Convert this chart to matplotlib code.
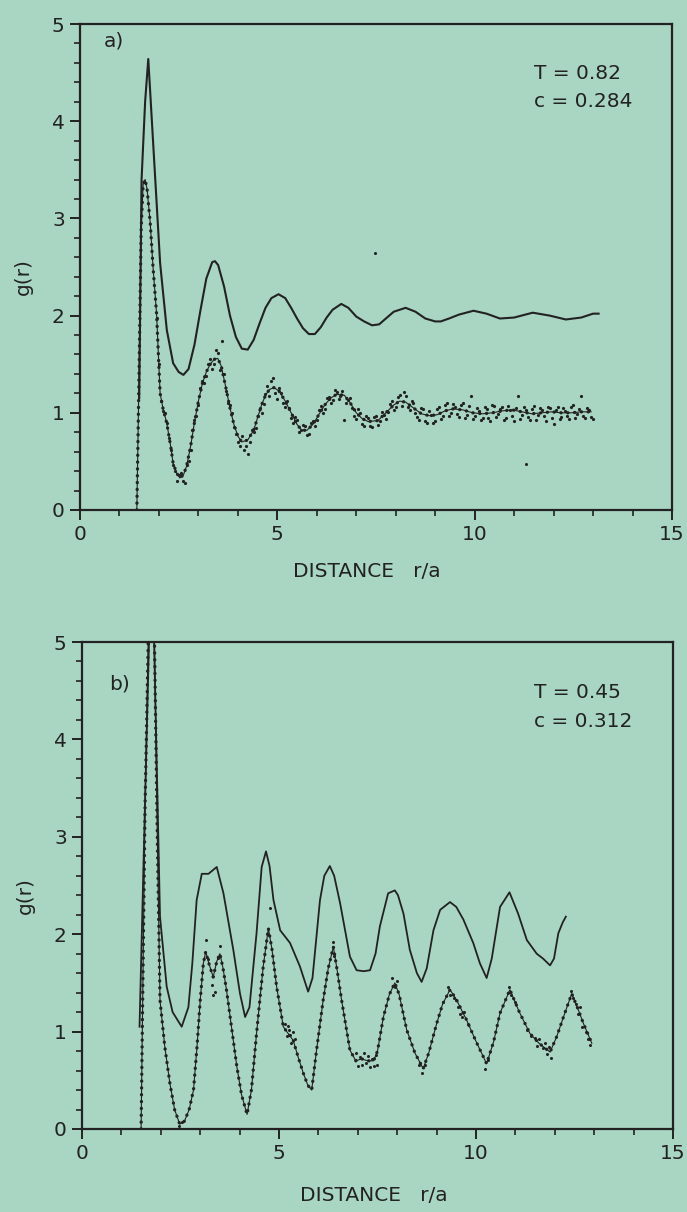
import matplotlib
matplotlib.use("Agg")
import matplotlib.pyplot as plt
from matplotlib.ticker import MultipleLocator

# ---------------- data ----------------
# Panel a: T = 0.82, c = 0.284
upper_a_x = [1.50, 1.56, 1.65, 1.73, 1.80, 1.90, 2.03, 2.20, 2.36, 2.50, 2.62, 2.75, 2.90,
             3.05, 3.20, 3.35, 3.42, 3.50, 3.65, 3.80, 3.95, 4.10, 4.25, 4.40, 4.55, 4.70,
             4.85, 5.03, 5.20, 5.35, 5.50, 5.65, 5.80, 5.95, 6.10, 6.25, 6.40, 6.62, 6.80,
             7.00, 7.20, 7.40, 7.58, 7.75, 7.95, 8.25, 8.50, 8.75, 9.00, 9.14, 9.35, 9.60,
             9.97, 10.30, 10.64, 11.00, 11.47, 11.90, 12.31, 12.70, 13.00, 13.14]
upper_a_y = [1.15, 3.40, 4.20, 4.64, 4.15, 3.45, 2.54, 1.85, 1.51, 1.42, 1.39, 1.45, 1.70,
             2.05, 2.38, 2.55, 2.56, 2.52, 2.30, 2.00, 1.78, 1.66, 1.65, 1.75, 1.92, 2.08,
             2.18, 2.22, 2.18, 2.08, 1.97, 1.87, 1.81, 1.81, 1.88, 1.98, 2.06, 2.12, 2.08,
             1.99, 1.94, 1.90, 1.91, 1.97, 2.04, 2.08, 2.04, 1.97, 1.94, 1.94, 1.97, 2.01,
             2.05, 2.02, 1.97, 1.98, 2.03, 2.00, 1.96, 1.98, 2.02, 2.02]

lower_a_x = [1.44, 1.50, 1.55, 1.60, 1.65, 1.70, 1.78, 1.85, 1.94, 2.03, 2.10, 2.20, 2.30,
             2.36, 2.45, 2.53, 2.62, 2.70, 2.80, 2.90, 3.00, 3.10, 3.20, 3.30, 3.40, 3.49,
             3.58, 3.70, 3.80, 3.90, 4.00, 4.10, 4.25, 4.40, 4.50, 4.60, 4.70, 4.80, 4.92,
             5.05, 5.20, 5.35, 5.50, 5.62, 5.75, 5.90, 6.05, 6.20, 6.35, 6.50, 6.70, 6.85,
             7.00, 7.15, 7.30, 7.55, 7.75, 7.95, 8.10, 8.25, 8.45, 8.65, 8.85, 9.05, 9.25,
             9.45, 9.70, 9.95, 10.20, 10.45, 10.70, 10.95, 11.20, 11.45, 11.70, 11.95,
             12.20, 12.45, 12.70, 12.95]
lower_a_y = [0.00, 1.50, 2.90, 3.35, 3.40, 3.30, 2.95, 2.50, 2.02, 1.20, 1.05, 0.89, 0.65,
             0.48, 0.38, 0.33, 0.36, 0.45, 0.65, 0.90, 1.12, 1.30, 1.42, 1.50, 1.55, 1.56,
             1.48, 1.25, 1.05, 0.88, 0.76, 0.70, 0.72, 0.82, 0.95, 1.08, 1.18, 1.24, 1.26,
             1.22, 1.12, 1.00, 0.88, 0.82, 0.82, 0.88, 0.98, 1.08, 1.15, 1.19, 1.18, 1.10,
             1.00, 0.94, 0.91, 0.92, 1.00, 1.08, 1.12, 1.11, 1.05, 0.99, 0.97, 0.98, 1.02,
             1.04, 1.03, 1.00, 0.99, 1.00, 1.02, 1.03, 1.01, 0.99, 1.00, 1.01, 1.00, 1.00,
             1.01, 1.01]

dots_a1_x = [1.95, 2.05, 2.15, 2.25, 2.35, 2.45, 2.55, 2.65, 2.75, 2.85, 2.95, 3.05, 3.15,
             3.25, 3.35, 3.45, 3.55, 3.65, 3.75, 3.85, 3.95, 4.05, 4.15, 4.25, 4.35, 4.45,
             4.55, 4.65, 4.75, 4.85, 4.95, 5.05, 5.15, 5.25, 5.35, 5.45, 5.55, 5.65, 5.75,
             5.85, 5.95, 6.05, 6.15, 6.25, 6.35, 6.45, 6.55, 6.65, 6.75, 6.85, 6.95, 7.05,
             7.15, 7.25, 7.35, 7.45, 7.55, 7.65, 7.75, 7.85, 7.95, 8.05, 8.15, 8.25, 8.35,
             8.45, 8.55, 8.65, 8.75, 8.85, 8.95, 9.05, 9.15, 9.25, 9.35, 9.45, 9.55, 9.65,
             9.75, 9.85, 9.95, 10.05, 10.15, 10.25, 10.35, 10.45, 10.55, 10.65, 10.75, 10.85,
             10.95, 11.05, 11.15, 11.25, 11.35, 11.45, 11.55, 11.65, 11.75, 11.85, 11.95,
             12.05, 12.15, 12.25, 12.35, 12.45, 12.55, 12.65, 12.75, 12.85, 12.95]
dots_a1_y = [1.98, 1.12, 1.00, 0.74, 0.46, 0.30, 0.38, 0.28, 0.50, 0.82, 0.97, 1.25, 1.31,
             1.50, 1.45, 1.65, 1.44, 1.40, 1.10, 1.00, 0.78, 0.66, 0.62, 0.58, 0.82, 0.84,
             1.05, 1.09, 1.28, 1.33, 1.20, 1.26, 1.10, 1.12, 0.95, 0.96, 0.80, 0.87, 0.77,
             0.90, 0.86, 1.03, 1.00, 1.15, 1.10, 1.23, 1.14, 1.22, 1.10, 1.15, 0.97, 1.04,
             0.88, 0.97, 0.86, 0.96, 0.87, 1.01, 0.94, 1.09, 1.03, 1.16, 1.07, 1.17, 1.03,
             1.10, 0.96, 1.05, 0.92, 1.02, 0.90, 1.04, 0.94, 1.08, 0.97, 1.09, 0.99, 1.08,
             0.95, 1.07, 0.94, 1.05, 0.93, 1.06, 0.95, 1.08, 0.96, 1.04, 0.93, 1.07,
             0.97, 1.05, 0.94, 1.06, 0.96, 1.04, 0.93, 1.05, 0.97, 1.06, 0.95,
             1.03, 0.94, 1.05, 0.97, 1.06, 0.95, 1.04, 0.97, 1.05, 0.96]

dots_a2_x = [2.0, 2.1, 2.2, 2.3, 2.4, 2.5, 2.6, 2.7, 2.8, 2.9, 3.0, 3.1, 3.2, 3.3, 3.4, 3.5,
             3.6, 3.7, 3.8, 3.9, 4.0, 4.1, 4.2, 4.3, 4.4, 4.5, 4.6, 4.7, 4.8, 4.9, 5.0, 5.1,
             5.2, 5.3, 5.4, 5.5, 5.6, 5.7, 5.8, 5.9, 6.0, 6.1, 6.2, 6.3, 6.4, 6.5, 6.6, 6.7,
             6.8, 6.9, 7.0, 7.1, 7.2, 7.3, 7.4, 7.5, 7.6, 7.7, 7.8, 7.9, 8.0, 8.1, 8.2, 8.3,
             8.4, 8.5, 8.6, 8.7, 8.8, 8.9, 9.0, 9.1, 9.2, 9.3, 9.4, 9.5, 9.6, 9.7, 9.8, 9.9,
             10.0, 10.1, 10.2, 10.3, 10.4, 10.5, 10.6, 10.7, 10.8, 10.9, 11.0, 11.1, 11.2,
             11.3, 11.4, 11.5, 11.6, 11.7, 11.8, 11.9, 12.0, 12.1, 12.2, 12.3, 12.4, 12.5,
             12.6, 12.7, 12.8, 12.9, 13.0]
dots_a2_y = [1.50, 1.02, 0.90, 0.62, 0.40, 0.36, 0.30, 0.46, 0.62, 0.93, 1.08, 1.33, 1.38,
             1.55, 1.50, 1.62, 1.74, 1.22, 1.08, 0.85, 0.70, 0.76, 0.66, 0.70, 0.80, 0.97,
             1.00, 1.19, 1.17, 1.36, 1.14, 1.20, 1.06, 1.05, 0.90, 0.93, 0.82, 0.86, 0.78,
             0.92, 0.93, 1.07, 1.04, 1.16, 1.13, 1.21, 1.17, 0.93, 1.13, 1.05, 0.94, 1.00,
             0.86, 0.95, 0.85, 0.97, 0.92, 0.98, 1.01, 1.12, 1.06, 1.18, 1.21, 1.06, 1.12,
             1.00, 0.93, 1.04, 0.90, 0.98, 0.92, 1.06, 0.97, 1.10, 1.00, 1.06, 0.96, 1.10,
             0.98, 1.17, 0.97, 1.02, 0.95, 1.04, 0.92, 1.07, 0.99, 1.06, 0.95, 1.03, 0.92,
             1.17, 0.98, 1.03, 0.93, 1.07, 0.98, 1.03, 0.92, 1.05, 0.88, 1.06, 0.96, 1.02,
             0.94, 1.08, 0.99, 1.17, 0.95, 1.03, 0.94]

stray_a_x = [7.47, 11.30]
stray_a_y = [2.64, 0.47]

# Panel b: T = 0.45, c = 0.312
upper_b_x = [1.46, 1.70, 1.77, 1.83, 1.98, 2.15, 2.30, 2.53, 2.70, 2.80, 2.91, 3.04, 3.21,
             3.42, 3.59, 3.84, 4.01, 4.14, 4.25, 4.43, 4.56, 4.67, 4.76, 4.86, 5.03, 5.28,
             5.53, 5.74, 5.85, 6.04, 6.15, 6.29, 6.40, 6.55, 6.80, 6.97, 7.15, 7.31, 7.45,
             7.56, 7.77, 7.94, 8.02, 8.16, 8.32, 8.50, 8.62, 8.75, 8.92, 9.09, 9.34, 9.50,
             9.68, 9.93, 10.10, 10.27, 10.40, 10.61, 10.85, 11.07, 11.29, 11.54, 11.70,
             11.88, 11.98, 12.09, 12.20, 12.28]
upper_b_y = [1.05, 5.00, 6.10, 5.00, 2.18, 1.46, 1.20, 1.05, 1.25, 1.70, 2.35, 2.62, 2.62,
             2.69, 2.42, 1.84, 1.39, 1.15, 1.25, 2.01, 2.69, 2.85, 2.70, 2.35, 2.04, 1.91,
             1.67, 1.41, 1.55, 2.35, 2.60, 2.70, 2.60, 2.32, 1.77, 1.63, 1.62, 1.63, 1.80,
             2.08, 2.42, 2.45, 2.40, 2.21, 1.84, 1.60, 1.51, 1.65, 2.04, 2.25, 2.33, 2.28,
             2.15, 1.91, 1.70, 1.55, 1.75, 2.28, 2.43, 2.21, 1.94, 1.80, 1.75,
             1.68, 1.75, 2.01, 2.12, 2.18]

lower_b_x = [1.50, 1.60, 1.68, 1.76, 1.84, 1.90, 1.98, 2.10, 2.23, 2.35, 2.48, 2.60, 2.72,
             2.83, 2.92, 3.00, 3.08, 3.14, 3.22, 3.33, 3.42, 3.50, 3.58, 3.67, 3.76, 3.93,
             4.05, 4.19, 4.30, 4.43, 4.52, 4.60, 4.73, 4.82, 4.94, 5.11, 5.25, 5.36, 5.50,
             5.62, 5.73, 5.83, 5.95, 6.12, 6.25, 6.38, 6.48, 6.59, 6.80, 6.95, 7.10, 7.25,
             7.40, 7.50, 7.65, 7.80, 7.94, 8.05, 8.24, 8.45, 8.66, 8.80, 9.00, 9.15, 9.34,
             9.50, 9.76, 10.00, 10.27, 10.45, 10.61, 10.86, 11.10, 11.37, 11.60, 11.88,
             12.05, 12.22, 12.43, 12.60, 12.72, 12.94]
lower_b_y = [0.00, 3.30, 5.00, 5.60, 5.00, 3.30, 1.32, 0.85, 0.47, 0.20, 0.05, 0.08, 0.20,
             0.40, 0.85, 1.32, 1.70, 1.82, 1.70, 1.56, 1.72, 1.80, 1.65, 1.42, 1.15, 0.64,
             0.35, 0.15, 0.40, 0.98, 1.35, 1.67, 2.06, 1.85, 1.46, 1.05, 0.97, 0.91, 0.72,
             0.57, 0.45, 0.40, 0.80, 1.32, 1.65, 1.87, 1.62, 1.32, 0.81, 0.70, 0.72, 0.70,
             0.70, 0.80, 1.15, 1.38, 1.50, 1.38, 1.02, 0.78, 0.62, 0.78, 1.08, 1.28, 1.43,
             1.33, 1.12, 0.90, 0.67, 0.90, 1.19, 1.43, 1.20, 0.98, 0.88, 0.79,
             0.95, 1.15, 1.39, 1.22, 1.09, 0.88]

dots_b_x = [2.45, 2.55, 3.14, 3.20, 3.30, 3.33, 3.38, 3.45, 3.51, 4.77, 5.15, 5.20, 5.22,
            5.25, 5.28, 5.30, 5.35, 5.40, 6.36, 6.40, 6.95, 7.00, 7.05, 7.10, 7.15, 7.20,
            7.25, 7.30, 7.35, 7.40, 7.45, 7.48, 7.88, 7.95, 8.00, 8.55, 8.62, 8.70, 9.30,
            9.35, 9.45, 9.50, 9.55, 9.60, 9.65, 9.70, 9.80, 10.22, 10.30, 10.85, 10.90,
            11.00, 11.30, 11.40, 11.50, 11.55, 11.60, 11.70, 11.75, 11.80, 11.85, 11.90,
            12.40, 12.45, 12.55, 12.60, 12.65, 12.70, 12.80, 12.85, 12.90]
dots_b_y = [0.03, 0.07, 1.94, 1.75, 1.48, 1.38, 1.41, 1.76, 1.88, 2.27, 1.08, 0.95, 1.06,
            1.02, 0.97, 0.88, 1.00, 0.92, 1.92, 1.78, 0.78, 0.65, 0.74, 0.66, 0.78, 0.68,
            0.75, 0.64, 0.72, 0.65, 0.76, 0.66, 1.55, 1.46, 1.52, 0.66, 0.57, 0.66, 1.46,
            1.38, 1.35, 1.32, 1.25, 1.18, 1.15, 1.20, 1.08, 0.62, 0.71, 1.46, 1.38,
            1.30, 1.02, 0.95, 0.93, 0.85, 0.92, 0.83, 0.88, 0.77, 0.84, 0.73,
            1.42, 1.35, 1.28, 1.18, 1.25, 1.05, 1.00, 0.92, 0.86]

x_ticks = [0, 5, 10, 15]
y_ticks = [0, 1, 2, 3, 4, 5]

# ---------------- style ----------------
BG = "#a9d5c3"
INK = "#222222"
FS = 14.5
plt.rcParams["font.family"] = ["DejaVu Sans"]

fig = plt.figure(figsize=(6.87, 12.12), dpi=100, facecolor=BG)

W, H = 687.0, 1212.0
ax_a = fig.add_axes([80 / W, 1 - 510 / H, 592 / W, 486 / H], facecolor=BG)
ax_b = fig.add_axes([82 / W, 1 - 1129 / H, 591 / W, 487 / H], facecolor=BG)


def style(ax):
    ax.set_xlim(0, 15)
    ax.set_ylim(0, 5)
    ax.set_xticks(x_ticks)
    ax.set_yticks(y_ticks)
    ax.xaxis.set_minor_locator(MultipleLocator(1))
    ax.yaxis.set_minor_locator(MultipleLocator(0.2))
    ax.tick_params(which="major", direction="out", length=7, width=1.4,
                   colors=INK, labelsize=FS, pad=4, top=False, right=False)
    ax.tick_params(which="minor", direction="out", length=4, width=1.2,
                   colors=INK, top=False, right=False)
    for s in ax.spines.values():
        s.set_color(INK)
        s.set_linewidth(1.6)
    ax.set_ylabel("g(r)", fontsize=FS, color=INK)
    ax.yaxis.set_label_coords(-0.079, 0.48)
    ax.set_xlabel("DISTANCE   r/a", fontsize=FS, color=INK)


def lower_series(ax, x, y):
    ax.plot(x, y, color=INK, lw=0.8, solid_joinstyle="round")
    ax.plot(x, y, color=INK, lw=2.4, linestyle=(0, (0.05, 2.0)),
            dash_capstyle="round")


# Panel a
style(ax_a)
ax_a.plot(upper_a_x, upper_a_y, color=INK, lw=1.5, solid_joinstyle="round")
lower_series(ax_a, lower_a_x, lower_a_y)
ax_a.plot(dots_a1_x, dots_a1_y, "o", color=INK, ms=2.3, mew=0)
ax_a.plot(dots_a2_x, dots_a2_y, "o", color=INK, ms=2.3, mew=0)
ax_a.plot(stray_a_x, stray_a_y, "o", color=INK, ms=2.2, mew=0)
ax_a.text(0.85, 4.82, "a)", fontsize=FS, color=INK, ha="center", va="center")
ax_a.text(11.5, 4.49, "T = 0.82", fontsize=FS, color=INK, ha="left", va="center")
ax_a.text(11.5, 4.20, "c = 0.284", fontsize=FS, color=INK, ha="left", va="center")
ax_a.xaxis.set_label_coords(0.485, -0.107)

# Panel b
style(ax_b)
ax_b.plot(upper_b_x, upper_b_y, color=INK, lw=1.3, solid_joinstyle="round")
lower_series(ax_b, lower_b_x, lower_b_y)
ax_b.plot(dots_b_x, dots_b_y, "o", color=INK, ms=2.2, mew=0)
ax_b.text(0.95, 4.57, "b)", fontsize=FS, color=INK, ha="center", va="center")
ax_b.text(11.47, 4.48, "T = 0.45", fontsize=FS, color=INK, ha="left", va="center")
ax_b.text(11.47, 4.18, "c = 0.312", fontsize=FS, color=INK, ha="left", va="center")
ax_b.xaxis.set_label_coords(0.494, -0.118)

fig.savefig("out.png", dpi=100, facecolor=BG)
